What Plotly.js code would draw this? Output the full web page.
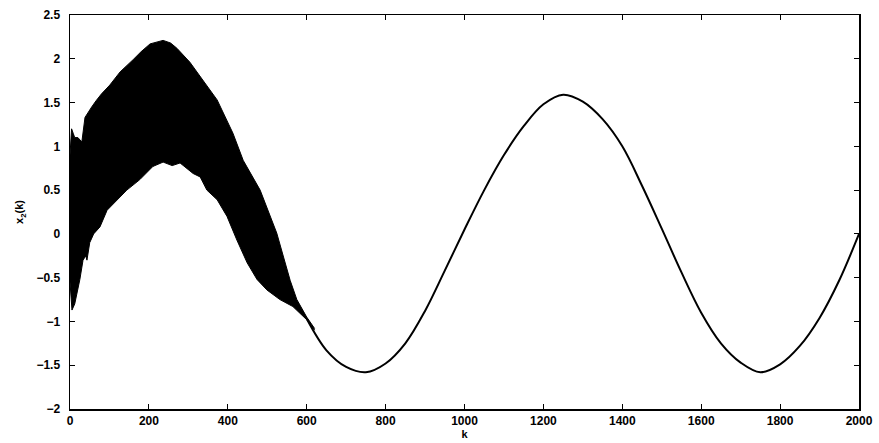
<!DOCTYPE html>
<html>
<head>
<meta charset="utf-8">
<script src="https://cdn.plot.ly/plotly-3.0.1.min.js"></script>
<style>html,body{margin:0;padding:0;background:#fff;}#chart{width:879px;height:443px;}</style>
</head>
<body>
<div id="chart"></div>
<script>
// Upper envelope of the oscillating transient band (k, x2)
const bandUpperK = [0, 4, 8, 12, 20, 30, 38, 46, 55, 66, 80, 101, 127, 160, 180, 203, 236, 255, 271, 304, 337, 373, 413, 439, 482, 499, 524, 558, 575, 600, 620];
const bandUpperV = [0.90, 1.20, 1.15, 1.10, 1.10, 1.05, 1.33, 1.38, 1.45, 1.52, 1.60, 1.70, 1.85, 1.99, 2.08, 2.17, 2.21, 2.18, 2.12, 1.96, 1.76, 1.53, 1.15, 0.84, 0.50, 0.31, 0.01, -0.53, -0.75, -0.95, -1.08];
// Lower envelope of the band
const bandLowerK = [0, 5, 12, 18, 25, 33, 40, 43, 50, 60, 76, 94, 119, 144, 177, 210, 236, 259, 279, 312, 330, 347, 373, 398, 423, 449, 474, 499, 532, 565, 600, 620];
const bandLowerV = [-0.55, -0.87, -0.80, -0.67, -0.52, -0.30, -0.25, -0.30, -0.10, 0.00, 0.08, 0.27, 0.39, 0.50, 0.62, 0.77, 0.82, 0.78, 0.81, 0.69, 0.65, 0.50, 0.39, 0.20, -0.07, -0.33, -0.52, -0.64, -0.75, -0.83, -0.98, -1.10];
// Settled trajectory after the transient
const smoothK = [600, 650, 700, 750, 800, 850, 900, 950, 1000, 1050, 1100, 1150, 1200, 1250, 1300, 1350, 1400, 1450, 1500, 1550, 1600, 1650, 1700, 1750, 1800, 1850, 1900, 1950, 2000];
const smoothV = [-0.97, -1.33, -1.52, -1.58, -1.48, -1.25, -0.88, -0.42, 0.05, 0.50, 0.90, 1.23, 1.48, 1.59, 1.51, 1.31, 1.00, 0.55, 0.06, -0.44, -0.90, -1.25, -1.47, -1.58, -1.49, -1.28, -0.96, -0.53, 0.00];
// Tick values
const xTicks = [0, 200, 400, 600, 800, 1000, 1200, 1400, 1600, 1800, 2000];
const yTicks = [-2, -1.5, -1, -0.5, 0, 0.5, 1, 1.5, 2, 2.5];

const traces = [
  {x: bandUpperK, y: bandUpperV, mode: 'lines', line: {color: '#000', width: 1}, hoverinfo: 'skip'},
  {x: bandLowerK, y: bandLowerV, mode: 'lines', fill: 'tonexty', fillcolor: '#000', line: {color: '#000', width: 1}, hoverinfo: 'skip'},
  {x: smoothK, y: smoothV, mode: 'lines', line: {color: '#000', width: 2, shape: 'spline', smoothing: 1}}
];

const tickFont = {family: 'Liberation Sans, Arial, sans-serif', size: 12, color: '#000', weight: 'bold'};
const layout = {
  width: 879, height: 443,
  margin: {l: 70, r: 20, t: 15, b: 34},
  paper_bgcolor: '#fff', plot_bgcolor: '#fff',
  showlegend: false,
  xaxis: {
    range: [0, 2000], tickvals: xTicks, ticktext: xTicks.map(String),
    ticks: 'inside', ticklen: 5, tickcolor: '#000', tickwidth: 1,
    showline: true, linecolor: '#000', linewidth: 1.5, mirror: 'ticks',
    showgrid: false, zeroline: false, tickfont: tickFont,
    title: {text: 'k', font: {family: 'Liberation Sans, Arial, sans-serif', size: 11, color: '#000', weight: 'bold'}, standoff: 3}
  },
  yaxis: {
    range: [-2, 2.5], tickvals: yTicks, ticktext: yTicks.map(v => v < 0 ? '\u2212' + String(-v) : String(v)),
    ticks: 'inside', ticklen: 5, tickcolor: '#000', tickwidth: 1, ticklabelstandoff: 6,
    showline: true, linecolor: '#000', linewidth: 1.5, mirror: 'ticks',
    showgrid: false, zeroline: false, tickfont: tickFont,
    title: {text: 'x<sub>2</sub>(k)', font: {family: 'Liberation Sans, Arial, sans-serif', size: 11, color: '#000', weight: 'bold'}, standoff: 10}
  }
};

Plotly.newPlot('chart', traces, layout, {displayModeBar: false, staticPlot: true});
</script>
</body>
</html>
